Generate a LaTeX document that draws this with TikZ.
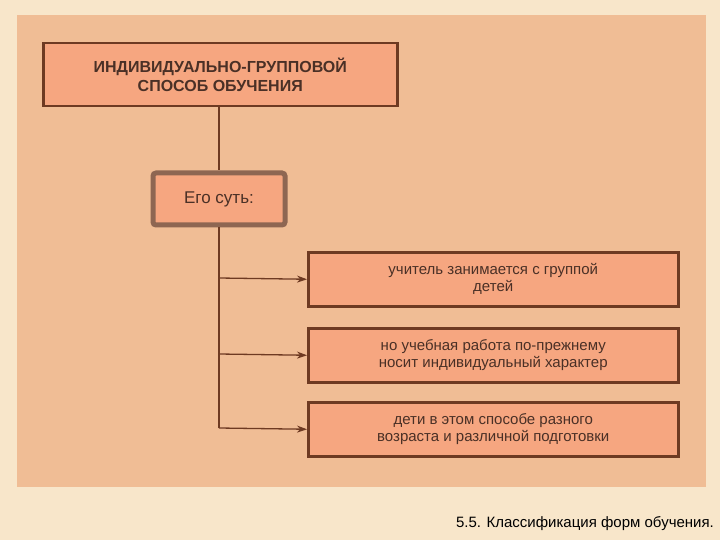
\documentclass[tikz,border=0pt]{standalone}
\usepackage{fontspec}
\setmainfont{Liberation Sans}
\usetikzlibrary{arrows.meta}
\definecolor{bgc}{HTML}{F8E6CA}
\definecolor{panel}{HTML}{F0BD95}
\definecolor{boxf}{HTML}{F6A680}
\definecolor{brd}{HTML}{6E3A22}
\definecolor{txt}{HTML}{4A3026}
\definecolor{gbrd}{HTML}{8E6652}
\tikzset{
  box/.style={draw=brd, line width=2.5pt, fill=boxf, text=txt, align=center, font=\fontsize{15}{17}\selectfont, minimum width=370pt, minimum height=54pt, anchor=north west, inner sep=0pt},
  conn/.style={draw=brd, line width=1.3pt},
  arr/.style={conn, -{Stealth[length=10pt,width=7pt]}}
}
\begin{document}
\begin{tikzpicture}[x=1pt,y=-1pt]
\useasboundingbox (0,0) rectangle (720,540);
\fill[bgc] (0,0) rectangle (720,540);
\fill[panel] (17,15) rectangle (706,487);
\node[box, minimum width=354pt, minimum height=63pt, font=\fontsize{16}{19}\selectfont\bfseries] (t) at (42,42) {ИНДИВИДУАЛЬНО-ГРУППОВОЙ\\СПОСОБ ОБУЧЕНИЯ};
\node[draw=gbrd, line width=5pt, rounded corners=3pt, fill=boxf, text=txt, font=\fontsize{17}{19}\selectfont, minimum width=132pt, minimum height=52pt, anchor=north west, inner sep=0pt] (s) at (150.5,170.5) {Его суть:};
\node[box] (b1) at (307,251) {учитель занимается с группой\\детей};
\node[box] (b2) at (307,327) {но учебная работа по-прежнему\\носит индивидуальный характер};
\node[box] (b3) at (307,401) {дети в этом способе разного\\возраста и различной подготовки};
\coordinate (c3) at (219,428);
\draw[conn] (t.south -| 219,0) -- (s.north -| 219,0);
\draw[conn] (s.south -| 219,0) -- (c3);
\draw[arr] (219,278) -- (b1.west);
\draw[arr] (219,354) -- (b2.west);
\draw[arr] (c3) -- (b3.west);
\node[anchor=south east, font=\fontsize{15}{17}\selectfont, inner sep=0pt] (cap) at (714,531) {5.5. Классификация форм обучения.};
\end{tikzpicture}
\end{document}
